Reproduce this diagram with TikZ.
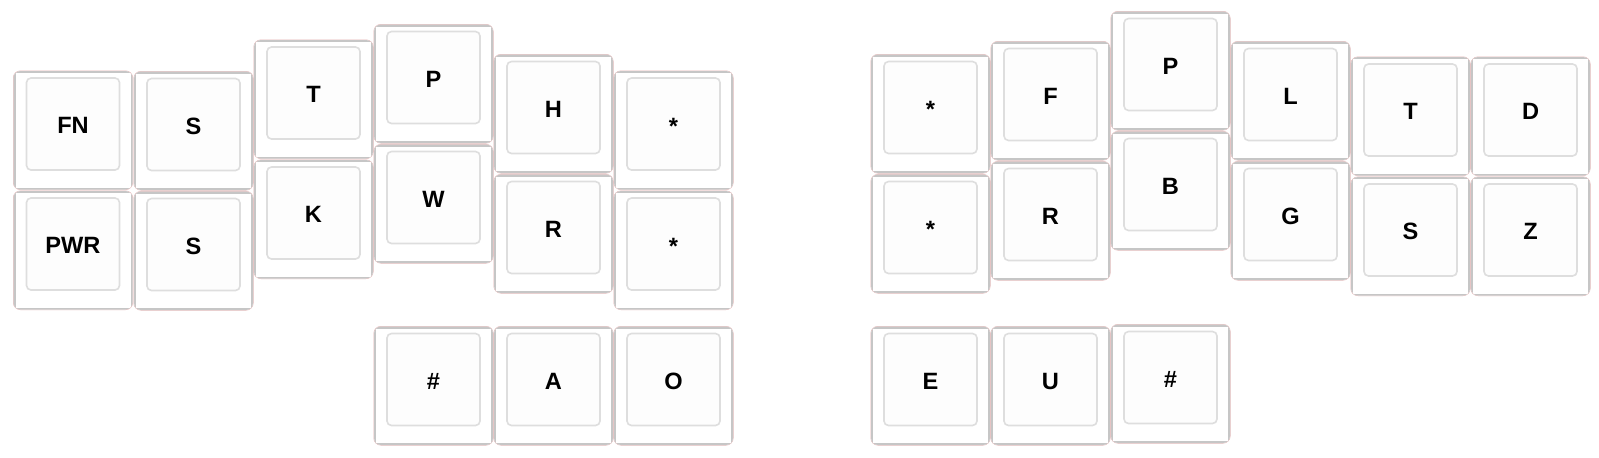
\documentclass[tikz,border=0pt]{standalone}
\usepackage{fontspec}
\setmainfont{Liberation Sans}
\definecolor{keyedge}{HTML}{C6C6C6}
\definecolor{keypink}{HTML}{E2B0B0}
\definecolor{keyinner}{HTML}{DEDEDE}
\definecolor{keytop}{HTML}{FDFDFD}
\newcommand{\keystar}{\raisebox{-0.4pt}{*}}
\begin{document}
\begin{tikzpicture}[x=0.5pt, y=-0.5pt,
		key/.style={rectangle, rounded corners=3.5pt, preaction={draw=keypink, line width=0.5pt}, fill=white,
			minimum width=59.5pt, minimum height=59.25pt, inner sep=0pt,
			font=\fontsize{11.8}{14}\selectfont\bfseries, text height=8.5pt, text depth=5.25pt,
			path picture={
				\draw [keyedge, line width=2pt, sharp corners] (path picture bounding box.north west) rectangle (path picture bounding box.south east);
				\draw [keyinner, fill=keytop, line width=0.8pt, rounded corners=2.25pt] ([shift={(6.5pt,-3.5pt)}]path picture bounding box.north west) rectangle ([shift={(-6.5pt,9.75pt)}]path picture bounding box.south east);
		}}]
		
		\useasboundingbox (0,0) rectangle (1599,457);
		
		% Columnas de la mano izquierda
		\foreach \x/\y/\a/\b [count=\c] in {13.5/71/FN/PWR, 134/71.5/S/S, 254/40/T/K, 374/24.5/P/W, 494/54.5/H/R, 614/71/\keystar/\keystar}
		{
			\node [key] (left-\c-1) at (\x+59.5,\y+59.25) {\a};
			\node [key] (left-\c-2) at (\x+59.5,\y+179.25) {\b};
		}
		
		% Pulgares de la mano izquierda
		\foreach \x/\a [count=\c] in {374/\#, 494/A, 614/O}
		\node [key] (left-thumb-\c) at (\x+59.5,326.5+59.25) {\a};
		
		% Columnas de la mano derecha
		\foreach \x/\y/\a/\b [count=\c] in {871/54.5/\keystar/\keystar, 991/41.5/F/R, 1111/11.5/P/B, 1231/41.5/L/G, 1351/57/T/S, 1471/57/D/Z}
		{
			\node [key] (right-\c-1) at (\x+59.5,\y+59.25) {\a};
			\node [key] (right-\c-2) at (\x+59.5,\y+179.25) {\b};
		}
		
		% Pulgares de la mano derecha
		\foreach \x/\y/\a [count=\c] in {871/326.5/E, 991/326.5/U, 1111/324.5/\#}
		\node [key] (right-thumb-\c) at (\x+59.5,\y+59.25) {\a};
		
	\end{tikzpicture}
\end{document}
